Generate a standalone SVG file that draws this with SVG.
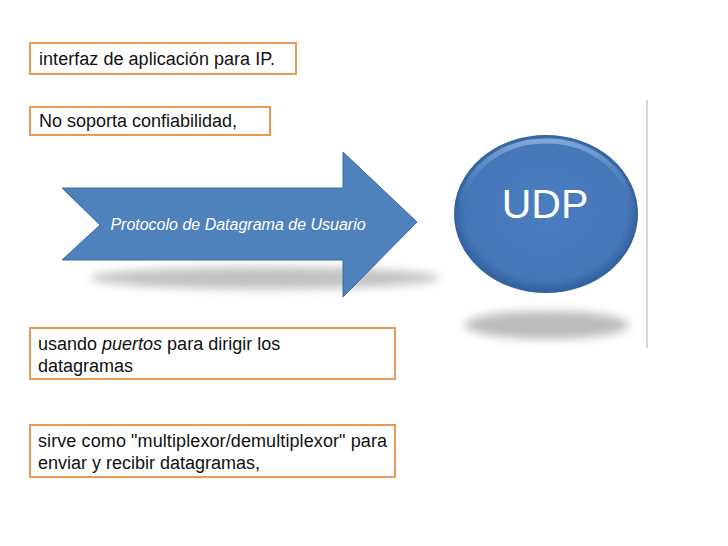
<svg xmlns="http://www.w3.org/2000/svg" width="728" height="546" viewBox="0 0 728 546">
<style>
.box{fill:#fff;stroke:#E59A58;stroke-width:2}
.t{font-family:"Liberation Sans",Arial,sans-serif;font-size:18px;fill:#111}
</style>
<defs>
<filter id="blur" x="-20%" y="-50%" width="140%" height="200%"><feGaussianBlur stdDeviation="5"/></filter>
<radialGradient id="ball" cx="50%" cy="48%" r="52%">
<stop offset="0" stop-color="#4A7DC0"/>
<stop offset="0.85" stop-color="#4677B8"/>
<stop offset="1" stop-color="#2F5F9E"/>
</radialGradient>
<linearGradient id="rim" x1="0" y1="0" x2="0" y2="1">
<stop offset="0" stop-color="#8FB2DE" stop-opacity="0.8"/>
<stop offset="0.5" stop-color="#4677B8" stop-opacity="0"/>
</linearGradient>
</defs>
<rect width="728" height="546" fill="#fff"/>
<g id="box1"><rect class="box" x="30" y="43" width="266" height="31"/><text class="t" x="39" y="65" textLength="236">interfaz de aplicación para IP.</text></g>
<g id="box2"><rect class="box" x="30" y="107" width="240" height="28"/><text class="t" x="39" y="127" textLength="198">No soporta confiabilidad,</text></g>
<g id="arrow">
<ellipse cx="265" cy="278" rx="175" ry="11" fill="#999" opacity="0.6" filter="url(#blur)"/>
<path d="M62,188 L343,188 L343,152 L417,222 L343,297 L343,260 L62,260 L100,225 Z" fill="#4F81BD" stroke="#3C6A9E" stroke-width="1"/>
<text x="238" y="230" text-anchor="middle" font-family="Liberation Sans,Arial,sans-serif" font-size="16" font-style="italic" fill="#fff">Protocolo de Datagrama de Usuario</text>
</g>
<g id="udp">
<ellipse cx="547" cy="325" rx="82" ry="14" fill="#bbb" filter="url(#blur)"/>
<ellipse cx="546" cy="214" rx="91" ry="78" fill="url(#ball)" stroke="#35649F" stroke-width="2"/>
<ellipse cx="546" cy="214" rx="86" ry="73" fill="none" stroke="url(#rim)" stroke-width="5"/>
<text x="545" y="218" text-anchor="middle" font-family="Liberation Sans,Arial,sans-serif" font-size="41" fill="#fff">UDP</text>
</g>
<line x1="647" y1="100" x2="647" y2="348" stroke="#ccc" stroke-width="1.5"/>
<g id="box3"><rect class="box" x="30" y="328" width="365" height="51"/><text class="t" x="38" y="350">usando <tspan font-style="italic">puertos</tspan> para dirigir los</text><text class="t" x="38" y="372">datagramas</text></g>
<g id="box4"><rect class="box" x="30" y="425" width="365" height="52"/><text class="t" x="38" y="447" textLength="349">sirve como "multiplexor/demultiplexor" para</text><text class="t" x="38" y="469" textLength="222">enviar y recibir datagramas,</text></g>
</svg>
